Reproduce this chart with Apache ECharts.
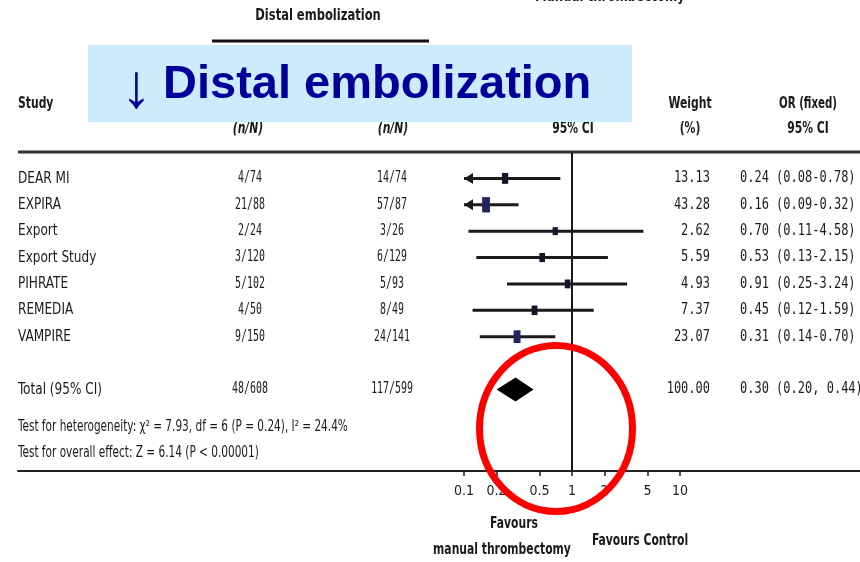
<!DOCTYPE html>
<html><head><meta charset="utf-8">
<script src="https://cdn.jsdelivr.net/npm/echarts@6/dist/echarts.min.js"></script>
<style>html,body{margin:0;padding:0;background:#fff}#c{width:860px;height:562px}</style>
</head><body><div id="c"></div>
<script>
// ---- data ----
const studies   = ['DEAR MI','EXPIRA','Export','Export Study','PIHRATE','REMEDIA','VAMPIRE'];
const treatN    = ['4/74','21/88','2/24','3/120','5/102','4/50','9/150'];
const controlN  = ['14/74','57/87','3/26','6/129','5/93','8/49','24/141'];
const weights   = [13.13,43.28,2.62,5.59,4.93,7.37,23.07];
const orVals    = [0.24,0.16,0.70,0.53,0.91,0.45,0.31];
const ciLow     = [0.08,0.09,0.11,0.13,0.25,0.12,0.14];
const ciHigh    = [0.78,0.32,4.58,2.15,3.24,1.59,0.70];
const totalLabel = 'Total (95% CI)';
const totalTreat = '48/608';
const totalControl = '117/599';
const totalWeight = 100.00;
const totalOR = 0.30, totalLow = 0.20, totalHigh = 0.44;
const tickValues = [0.1,0.2,0.5,1,2,5,10];
const tickLabels = ['0.1','0.2','0.5','1','2','5','10'];

// ---- layout / style ----
const X_MIN = 0.1, X_MAX = 10;
const ROW_MAX = 12.09;
const TOTAL_ROW = 9;
const NARROW = '"DejaVu Sans Condensed","Liberation Sans Narrow","Arial Narrow","Liberation Sans",sans-serif';
const MONO = '"DejaVu Sans Mono","Liberation Mono",monospace';
const INK = '#1a1a1a';

const chart = echarts.init(document.getElementById('c'), null, {renderer:'canvas'});

const rowOf = i => i + 1;

function textCol(x, texts, rows, align, font, size, sx, weight) {
  return {
    type: 'custom', xAxisIndex: 1, yAxisIndex: 1, silent: true, z: 3,
    data: texts.map((t, i) => [x, rows[i]]),
    renderItem(params, api) {
      const p = api.coord([api.value(0), api.value(1)]);
      return {type: 'text', x: p[0], y: p[1], scaleX: sx,
        style: {text: texts[params.dataIndex], fontFamily: font, fontSize: size, fontWeight: weight || 'normal',
          fill: INK, align: align, verticalAlign: 'middle'}};
    }
  };
}

function gtext(x, y, text, size, weight, align, sx, extra) {
  return Object.assign({type: 'text', x: x, y: y, scaleX: sx,
    style: {text: text, font: (weight || 'normal') + ' ' + size + 'px ' + NARROW, fill: INK,
      textAlign: align || 'left', textVerticalAlign: 'middle'}}, extra || {});
}

const studyRows = studies.map((s, i) => rowOf(i));
const allRows = studyRows.concat([TOTAL_ROW]);
const fmt = v => v.toFixed(2);
const orText = orVals.map((v, i) => fmt(v) + ' (' + fmt(ciLow[i]) + '-' + fmt(ciHigh[i]) + ')');

const option = {
  animation: false,
  grid: [
    {left: 464, width: 216, top: 152, height: 319},
    {left: 18, width: 842, top: 152, height: 319}
  ],
  xAxis: [
    {type: 'log', logBase: 10, gridIndex: 0, min: X_MIN, max: X_MAX, position: 'bottom',
      axisLine: {show: false, onZero: false}, splitLine: {show: false},
      axisTick: {show: true, customValues: tickValues, length: 5, lineStyle: {color: INK, width: 1.5}},
      axisLabel: {show: true, customValues: tickValues, margin: 13, fontFamily: NARROW, fontSize: 14, color: INK,
        formatter: v => { let best = 0; tickValues.forEach((t, k) => { if (Math.abs(Math.log10(t) - Math.log10(v)) < Math.abs(Math.log10(tickValues[best]) - Math.log10(v))) best = k; }); return tickLabels[best]; }}
    },
    {type: 'value', gridIndex: 1, min: 18, max: 860, position: 'bottom',
      axisLine: {show: true, onZero: false, lineStyle: {color: '#222', width: 2}},
      axisTick: {show: false}, axisLabel: {show: false}, splitLine: {show: false}}
  ],
  yAxis: [
    {type: 'value', gridIndex: 0, min: 0, max: ROW_MAX, inverse: true, show: false},
    {type: 'value', gridIndex: 1, min: 0, max: ROW_MAX, inverse: true, show: false}
  ],
  series: [
    {
      type: 'custom', xAxisIndex: 0, yAxisIndex: 0, silent: true, z: 5,
      data: studies.map((s, i) => [orVals[i], ciLow[i], ciHigh[i], rowOf(i), weights[i]]),
      renderItem(params, api) {
        const or = api.value(0), lo = api.value(1), hi = api.value(2), row = api.value(3), w = api.value(4);
        const loC = Math.max(lo, X_MIN), hiC = Math.min(hi, X_MAX);
        const pM = api.coord([or, row]), pL = api.coord([loC, row]), pH = api.coord([hiC, row]);
        const ch = [{type: 'line', shape: {x1: pL[0], y1: pL[1], x2: pH[0], y2: pH[1]}, style: {stroke: INK, lineWidth: 3}}];
        if (lo < X_MIN) ch.push({type: 'polygon', shape: {points: [[pL[0], pL[1]], [pL[0] + 9, pL[1] - 5.5], [pL[0] + 9, pL[1] + 5.5]]}, style: {fill: INK}});
        if (hi > X_MAX) ch.push({type: 'polygon', shape: {points: [[pH[0], pH[1]], [pH[0] - 9, pH[1] - 5.5], [pH[0] - 9, pH[1] + 5.5]]}, style: {fill: INK}});
        const sw = 4.5 + 0.5 * Math.sqrt(w), sh = 5.5 + 1.5 * Math.sqrt(w);
        ch.push({type: 'rect', shape: {x: pM[0] - sw / 2, y: pM[1] - sh / 2, width: sw, height: sh}, style: {fill: w > 20 ? '#24245e' : '#15152a'}});
        return {type: 'group', children: ch};
      },
      markLine: {silent: true, symbol: ['none', 'none'], label: {show: false},
        lineStyle: {color: INK, width: 2, type: 'solid'}, data: [{xAxis: 1}]}
    },
    {
      type: 'custom', xAxisIndex: 0, yAxisIndex: 0, silent: true, z: 5,
      data: [[totalOR, totalLow, totalHigh, TOTAL_ROW]],
      renderItem(params, api) {
        const row = api.value(3);
        const pM = api.coord([api.value(0), row]), pL = api.coord([api.value(1), row]), pH = api.coord([api.value(2), row]);
        return {type: 'polygon', shape: {points: [[pL[0], pL[1]], [pM[0], pM[1] - 12], [pH[0], pH[1]], [pM[0], pM[1] + 12]]}, style: {fill: '#000'}};
      }
    },
    textCol(18, studies.concat([totalLabel]), allRows, 'left', NARROW, 16, 0.84),
    textCol(250, treatN.concat([totalTreat]), allRows, 'center', MONO, 15, 0.66),
    textCol(392, controlN.concat([totalControl]), allRows, 'center', MONO, 15, 0.66),
    textCol(710, weights.concat([totalWeight]).map(fmt), allRows, 'right', MONO, 15, 0.8),
    textCol(740, orText.concat([fmt(totalOR) + ' (' + fmt(totalLow) + ', ' + fmt(totalHigh) + ')']), allRows, 'left', MONO, 15, 0.8)
  ],
  graphic: [
    // header line
    {type: 'line', shape: {x1: 18, y1: 152, x2: 860, y2: 152}, style: {stroke: '#333', lineWidth: 3}, z: 2},
    // top title
    gtext(318, 16, 'Distal embolization', 16, 'bold', 'center', 0.8),
    {type: 'line', shape: {x1: 212, y1: 41, x2: 429, y2: 41}, style: {stroke: '#111', lineWidth: 3}},
    gtext(610, -3.5, 'Manual thrombectomy', 16, 'bold', 'center', 0.82),
    // headers
    gtext(18, 104, 'Study', 15, 'bold', 'left', 0.8),
    gtext(248, 129, '(n/N)', 15, 'italic bold', 'center', 0.8),
    gtext(393, 129, '(n/N)', 15, 'italic bold', 'center', 0.8),
    gtext(573, 129, '95% CI', 15, 'bold', 'center', 0.8),
    gtext(690, 104, 'Weight', 15, 'bold', 'center', 0.8),
    gtext(690, 129, '(%)', 15, 'bold', 'center', 0.8),
    gtext(808, 104, 'OR (fixed)', 15, 'bold', 'center', 0.76),
    gtext(808, 129, '95% CI', 15, 'bold', 'center', 0.8),
    // tests
    gtext(18, 427, 'Test for heterogeneity: χ² = 7.93, df = 6 (P = 0.24), I² = 24.4%', 15, 'normal', 'left', 0.78),
    gtext(18, 453, 'Test for overall effect: Z = 6.14 (P < 0.00001)', 15, 'normal', 'left', 0.78),
    // favours
    gtext(514, 524, 'Favours', 15, 'bold', 'center', 0.8),
    gtext(502, 550, 'manual thrombectomy', 15, 'bold', 'center', 0.8),
    gtext(640, 541, 'Favours Control', 15, 'bold', 'center', 0.8),
    // overlay box
    {type: 'rect', shape: {x: 88, y: 45, width: 544, height: 77}, style: {fill: '#CCEBFC'}, z: 100},
    {type: 'text', x: 121, y: 90, style: {text: '↓', font: '62px "Liberation Sans",Arial,sans-serif', fill: '#000099', textVerticalAlign: 'middle'}, z: 101},
    {type: 'text', x: 163, y: 85, style: {text: 'Distal embolization', font: 'bold 47px "Liberation Sans",Arial,sans-serif', fill: '#000099', textVerticalAlign: 'middle'}, z: 101},
    // red ellipse
    {type: 'ellipse', shape: {cx: 556, cy: 428.5, rx: 76.5, ry: 83}, style: {fill: 'none', stroke: '#ff0000', lineWidth: 7}, z: 100}
  ]
};
chart.setOption(option);
</script>
</body></html>
